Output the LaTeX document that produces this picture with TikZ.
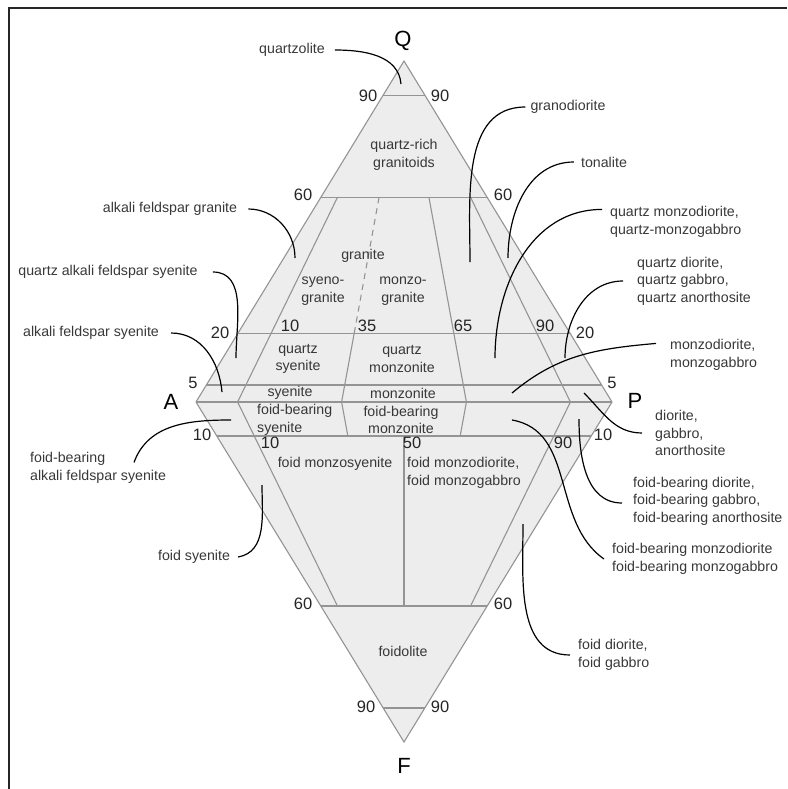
\documentclass[tikz,border=0pt]{standalone}
\usepackage{fontspec}
\setmainfont{Liberation Sans}
\usetikzlibrary{calc}

\begin{document}
\begin{tikzpicture}[x=1pt, y=-1pt,
  every node/.style={font=\fontsize{14.2}{17.5}\selectfont, text=black!78, inner sep=2pt},
  num/.style={font=\fontsize{16.5}{18}\selectfont, text=black!85},
  vtx/.style={font=\fontsize{22}{24}\selectfont, text=black},
  gline/.style={draw=black!42, line width=1.1pt},
  lead/.style={draw=black, line width=1.2pt}]
  \useasboundingbox (0,0) rectangle (787,789);
  \draw[line width=1.5pt, black!85] (9,789) |- (787,8);

  % corners and base points
  \coordinate (Q) at (404,61);
  \coordinate (A) at (196,402);
  \coordinate (P) at (612,402);
  \coordinate (F) at (404,742);
  \coordinate (b10) at ($(A)!0.10!(P)$);
  \coordinate (b35) at ($(A)!0.35!(P)$);
  \coordinate (b50) at ($(A)!0.50!(P)$);
  \coordinate (b65) at ($(A)!0.65!(P)$);
  \coordinate (b90) at ($(A)!0.90!(P)$);

  \fill[black!7] (Q) -- (A) -- (F) -- (P) -- cycle;
  \foreach \f in {0.1,0.4,0.8,0.95}
    \draw[gline] ($(Q)!\f!(A)$) -- ($(Q)!\f!(P)$);
  \foreach \f in {0.1,0.4,0.9}
    \draw[gline] ($(F)!\f!(A)$) -- ($(F)!\f!(P)$);
  \draw[gline] (A) -- (P);
  \draw[gline] ($(Q)!0.4!(b10)$) -- (b10) -- ($(F)!0.4!(b10)$);
  \draw[gline, dash pattern=on 6pt off 5pt] ($(Q)!0.4!(b35)$) -- ($(Q)!0.8!(b35)$);
  \draw[gline] ($(Q)!0.8!(b35)$) -- (b35) -- ($(F)!0.9!(b35)$);
  \draw[gline] ($(Q)!0.4!(b65)$) -- (b65) -- ($(F)!0.9!(b65)$);
  \draw[gline] ($(Q)!0.4!(b90)$) -- (b90) -- ($(F)!0.4!(b90)$);
  \draw[gline] ($(F)!0.9!(b50)$) -- ($(F)!0.4!(b50)$);
  \draw[gline, line join=miter] (Q) -- (A) -- (F) -- (P) -- cycle;

  % corner letters
  \node[vtx] (q) at (403,41) {Q};
  \node[vtx] (a) at (171,402) {A};
  \node[vtx] (p) at (635,401) {P};
  \node[vtx] (f) at (404,766) {F};

  % numbers on the edges
  \node[num] (q90l) at (368,96) {90};
  \node[num] (q90r) at (440,96) {90};
  \node[num] (q60l) at (303,195) {60};
  \node[num] (q60r) at (503,195) {60};
  \node[num] (q20l) at (220,333) {20};
  \node[num] (q20r) at (585,333) {20};
  \node[num] (q5l) at (193,383) {5};
  \node[num] (q5r) at (612,383) {5};
  \node[num] (f10l) at (202,435) {10};
  \node[num] (f10r) at (603,435) {10};
  \node[num] (f60l) at (303,604) {60};
  \node[num] (f60r) at (503,604) {60};
  \node[num] (f90l) at (366,707) {90};
  \node[num] (f90r) at (440,707) {90};
  \node[num] (r10) at (290,326) {10};
  \node[num] (r35) at (367,326) {35};
  \node[num] (r65) at (463,326) {65};
  \node[num] (r90) at (545,326) {90};
  \node[num] (s10) at (270,443) {10};
  \node[num] (s50) at (412,443) {50};
  \node[num] (s90) at (563,443) {90};

  % fields
  \node[align=center] (qrg) at (404,155) {quartz-rich\\granitoids};
  \node (gra) at (363,256) {granite};
  \node[align=center] (sgr) at (323,291) {syeno-\\granite};
  \node[align=center] (mgr) at (403,291) {monzo-\\granite};
  \node[align=center] (qsy) at (298,359) {quartz\\syenite};
  \node[align=center] (qmz) at (402,359) {quartz\\monzonite};
  \node (sye) at (290,393) {syenite};
  \node (mzn) at (403,393) {monzonite};
  \node[align=left, anchor=west] (fbs) at (255,420) {foid-bearing\\syenite};
  \node[align=center] (fbm) at (401,420) {foid-bearing\\monzonite};
  \node (fms) at (335,464) {foid monzosyenite};
  \node[align=left, anchor=west] (fmd) at (405,473) {foid monzodiorite,\\foid monzogabbro};
  \node (fdl) at (403,651) {foidolite};

  % names outside, with their leaders
  \node (qzl) at (292,50) {quartzolite};
  \node (afg) at (170,209) {alkali feldspar granite};
  \node (qafs) at (108,272) {quartz alkali feldspar syenite};
  \node (afs) at (91,333) {alkali feldspar syenite};
  \node[align=left, anchor=west] (fbafs) at (28,468) {foid-bearing\\alkali feldspar syenite};
  \node (fsy) at (194,557) {foid syenite};
  \node (gdi) at (568,107) {granodiorite};
  \node (ton) at (604,162) {tonalite};
  \node[align=left, anchor=west] (qmd) at (608,222) {quartz monzodiorite,\\quartz-monzogabbro};
  \node[align=left, anchor=west] (qdi) at (635,281) {quartz diorite,\\quartz gabbro,\\quartz anorthosite};
  \node[align=left, anchor=west] (mdi) at (668,355) {monzodiorite,\\monzogabbro};
  \node[align=left, anchor=west] (dio) at (653,433) {diorite,\\gabbro,\\anorthosite};
  \node[align=left, anchor=west] (fbd) at (631,501) {foid-bearing diorite,\\foid-bearing gabbro,\\foid-bearing anorthosite};
  \node[align=left, anchor=west] (fbmd) at (610,559) {foid-bearing monzodiorite\\foid-bearing monzogabbro};
  \node[align=left, anchor=west] (fdi) at (576,655) {foid diorite,\\foid gabbro};

  \coordinate (cqzl) at (401,84);
  \coordinate (cafg) at (295,258);
  \coordinate (cqafs) at (236,358);
  \coordinate (cafs) at (222,392);
  \coordinate (cfbafs) at (231,420);
  \coordinate (cfsy) at (262,485);
  \coordinate (cgdi) at (470,262);
  \coordinate (cton) at (508,258);
  \coordinate (cqmd) at (495,358);
  \coordinate (cqdi) at (565,358);
  \coordinate (cmdi) at (512,393);
  \coordinate (cdio) at (584,393);
  \coordinate (cfbd) at (579,419);
  \coordinate (cfbmd) at (512,420);
  \coordinate (cfdi) at (523,524);

  \draw[lead] ([xshift=8pt]qzl.east) to[out=0,in=95] (cqzl);
  \draw[lead] ([xshift=9pt]afg.east) to[out=0,in=90] (cafg);
  \draw[lead] ([xshift=13pt]qafs.east) to[out=0,in=90] (cqafs);
  \draw[lead] ([xshift=10pt]afs.east) to[out=0,in=95] (cafs);
  \draw[lead] ([shift={(106,12)}]fbafs.north west) to[out=70,in=180] (cfbafs);
  \draw[lead] ([xshift=6pt]fsy.east) to[out=10,in=-90] (cfsy);
  \draw[lead] ([xshift=-3pt]gdi.west) to[out=180,in=90] (cgdi);
  \draw[lead] ([xshift=-5pt]ton.west) to[out=180,in=90] (cton);
  \draw[lead] ([shift={(-6pt,-5pt)}]qmd.north west) to[out=180,in=90] (cqmd);
  \draw[lead] ([xshift=-12pt]qdi.west) to[out=180,in=90] (cqdi);
  \draw[lead] ([shift={(-12pt,-6pt)}]mdi.north west) to[out=185,in=40] (cmdi);
  \draw[lead] ([xshift=-11pt]dio.west) to[out=180,in=-45] (cdio);
  \draw[lead] ([shift={(-9pt,-2pt)}]fbd.west) to[out=180,in=-90] (cfbd);
  \draw[lead] ([xshift=-6pt]fbmd.west) to[out=145,in=-10] (cfbmd);
  \draw[lead] ([xshift=-6pt]fdi.west) to[out=180,in=-90] (cfdi);
\end{tikzpicture}
\end{document}
